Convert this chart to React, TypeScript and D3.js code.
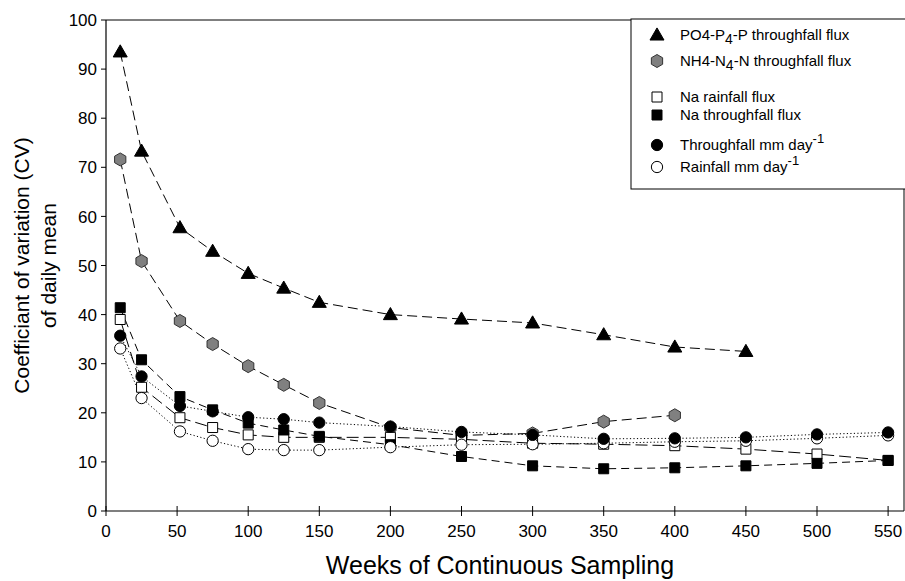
import React, { useEffect } from 'react'
import * as d3 from 'd3'

// weeks of continuous sampling (x values)
const WEEKS = [10, 25, 52, 75, 100, 125, 150, 200, 250, 300, 350, 400, 450, 500, 550]

const PO4_TF = [93.5, 73.3, 57.7, 52.9, 48.4, 45.4, 42.5, 40.0, 39.1, 38.3, 35.9, 33.4, 32.5]
const NH4_TF = [71.6, 50.9, 38.7, 34.0, 29.5, 25.7, 22.0, 17.0, 15.4, 15.8, 18.2, 19.5]
const NA_RF = [39.0, 25.2, 19.0, 17.0, 15.5, 15.0, 15.0, 15.0, 14.6, 13.8, 13.6, 13.3, 12.6, 11.6, 10.3]
const NA_TF = [41.4, 30.8, 23.3, 20.6, 17.9, 16.5, 15.2, 13.5, 11.1, 9.2, 8.6, 8.8, 9.2, 9.7, 10.3]
const TF_MM = [35.7, 27.4, 21.4, 20.3, 19.1, 18.7, 18.0, 17.2, 16.1, 15.5, 14.7, 14.8, 15.0, 15.6, 16.0]
const RF_MM = [33.1, 23.0, 16.2, 14.3, 12.6, 12.4, 12.4, 13.0, 13.5, 13.6, 13.8, 14.1, 14.3, 14.8, 15.4]

const X_TICKS = d3.range(0, 551, 50)
const Y_TICKS = d3.range(0, 101, 10)

const W = 905
const H = 581
const M = { left: 106, right: 904, top: 20, bottom: 511 }
const FONT = '"Liberation Sans", Arial, Helvetica, sans-serif'

type Marker = 'triangle' | 'hex' | 'square' | 'circle'

interface Series {
  key: string
  values: number[]
  marker: Marker
  fill: string
  dash: string
}

// drawing order matters: later ones sit on top
const SERIES: Series[] = [
  { key: 'po4', values: PO4_TF, marker: 'triangle', fill: '#000', dash: '10,5' },
  { key: 'nh4', values: NH4_TF, marker: 'hex', fill: '#808080', dash: '10,5' },
  { key: 'narf', values: NA_RF, marker: 'square', fill: '#fff', dash: '12,5' },
  { key: 'natf', values: NA_TF, marker: 'square', fill: '#000', dash: '8,5' },
  { key: 'rfmm', values: RF_MM, marker: 'circle', fill: '#fff', dash: '1.2,2.3' },
  { key: 'tfmm', values: TF_MM, marker: 'circle', fill: '#000', dash: '1.2,2.3' },
]

function hexPath(r: number) {
  const pts: [number, number][] = d3.range(6).map((i) => {
    const a = (Math.PI / 3) * i - Math.PI / 2
    return [r * Math.cos(a), r * Math.sin(a)]
  })
  return d3.line()(pts) + 'Z'
}

function markerPath(m: Marker) {
  if (m === 'triangle') return d3.symbol(d3.symbolTriangle, 85)()
  if (m === 'square') return d3.symbol(d3.symbolSquare, 100)()
  if (m === 'circle') return d3.symbol(d3.symbolCircle, 100)()
  return hexPath(6.5)
}

function MarkerShape({ m, fill, x, y }: { m: Marker; fill: string; x: number; y: number }) {
  const stroke = m === 'hex' ? '#333' : '#000'
  const dy = m === 'triangle' ? 1 : 0
  return (
    <path
      d={markerPath(m) || ''}
      transform={`translate(${x},${y + dy})`}
      fill={fill}
      stroke={stroke}
      strokeWidth={1}
    />
  )
}

export default function App() {
  useEffect(() => {
    document.body.style.margin = '0'
  }, [])

  const x = d3.scaleLinear().domain([0, (M.right - M.left) / 1.422]).range([M.left, M.right])
  const y = d3.scaleLinear().domain([0, 100]).range([M.bottom, M.top])

  const line = d3.line<[number, number]>()
    .x((d) => x(d[0]))
    .y((d) => y(d[1]))

  const legendRows = [
    { m: 'triangle' as Marker, fill: '#000', y: 35, parts: ['PO4-P', '4', '-P throughfall flux'] },
    { m: 'hex' as Marker, fill: '#808080', y: 61, parts: ['NH4-N', '4', '-N throughfall flux'] },
    { m: 'square' as Marker, fill: '#fff', y: 97, parts: ['Na rainfall flux'] },
    { m: 'square' as Marker, fill: '#000', y: 115, parts: ['Na throughfall flux'] },
    { m: 'circle' as Marker, fill: '#000', y: 145, parts: ['Throughfall mm day', '-1'] },
    { m: 'circle' as Marker, fill: '#fff', y: 167, parts: ['Rainfall mm day', '-1'] },
  ]

  return (
    <svg width={W} height={H} style={{ display: 'block', fontFamily: FONT }}>
      <rect x={0} y={0} width={W} height={H} fill="#fff" />

      {/* frame */}
      <line x1={M.left} x2={M.right} y1={M.top} y2={M.top} stroke="#000" strokeWidth={1} />
      <line x1={M.right} x2={M.right} y1={M.top} y2={M.bottom} stroke="#000" strokeWidth={1} />
      <line x1={M.left} x2={M.right} y1={M.bottom} y2={M.bottom} stroke="#000" strokeWidth={1.2} />
      <line x1={M.left} x2={M.left} y1={M.top} y2={M.bottom} stroke="#000" strokeWidth={1.2} />

      {/* y ticks */}
      {Y_TICKS.map((t) => (
        <g key={`y${t}`}>
          <line x1={M.left - 5} x2={M.left} y1={y(t)} y2={y(t)} stroke="#000" />
          <text x={M.left - 9} y={y(t)} dy="0.36em" textAnchor="end" fontSize={17} fill="#000">
            {t}
          </text>
        </g>
      ))}

      {/* x ticks */}
      {X_TICKS.map((t) => (
        <g key={`x${t}`}>
          <line x1={x(t)} x2={x(t)} y1={M.bottom - 5} y2={M.bottom + 5} stroke="#000" />
          <text x={x(t)} y={M.bottom + 26} textAnchor="middle" fontSize={17} fill="#000">
            {t}
          </text>
        </g>
      ))}

      {/* axis titles */}
      <text x={500} y={574} textAnchor="middle" fontSize={25} fill="#000">
        Weeks of Continuous Sampling
      </text>
      <g transform={`translate(29,${(M.top + M.bottom) / 2}) rotate(-90)`}>
        <text x={0} y={0} textAnchor="middle" fontSize={21} fill="#000">
          Coefficiant of variation (CV)
        </text>
        <text x={0} y={27} textAnchor="middle" fontSize={21} fill="#000">
          of daily mean
        </text>
      </g>

      {/* lines */}
      {SERIES.map((s) => (
        <path
          key={`l${s.key}`}
          d={line(s.values.map((v, i) => [WEEKS[i], v] as [number, number])) || ''}
          fill="none"
          stroke="#000"
          strokeWidth={1}
          strokeDasharray={s.dash}
        />
      ))}

      {/* markers */}
      {SERIES.map((s) => (
        <g key={`m${s.key}`}>
          {s.values.map((v, i) => (
            <MarkerShape key={i} m={s.marker} fill={s.fill} x={x(WEEKS[i])} y={y(v)} />
          ))}
        </g>
      ))}

      {/* legend */}
      <rect x={631} y={19} width={290} height={170} fill="#fff" stroke="#000" strokeWidth={1} />
      {legendRows.map((r, i) => (
        <g key={`lg${i}`}>
          <MarkerShape m={r.m} fill={r.fill} x={657} y={r.y} />
          <text x={680} y={r.y + 5} fontSize={15} fill="#000">
            {r.parts.length === 1 && r.parts[0]}
            {r.parts.length === 3 && (
              <>
                {r.parts[0]}
                <tspan dy={4} fontSize={14}>{r.parts[1]}</tspan>
                <tspan dy={-4}>{r.parts[2]}</tspan>
              </>
            )}
            {r.parts.length === 2 && (
              <>
                {r.parts[0]}
                <tspan dy={-7} fontSize={13}>{r.parts[1]}</tspan>
              </>
            )}
          </text>
        </g>
      ))}
    </svg>
  )
}
